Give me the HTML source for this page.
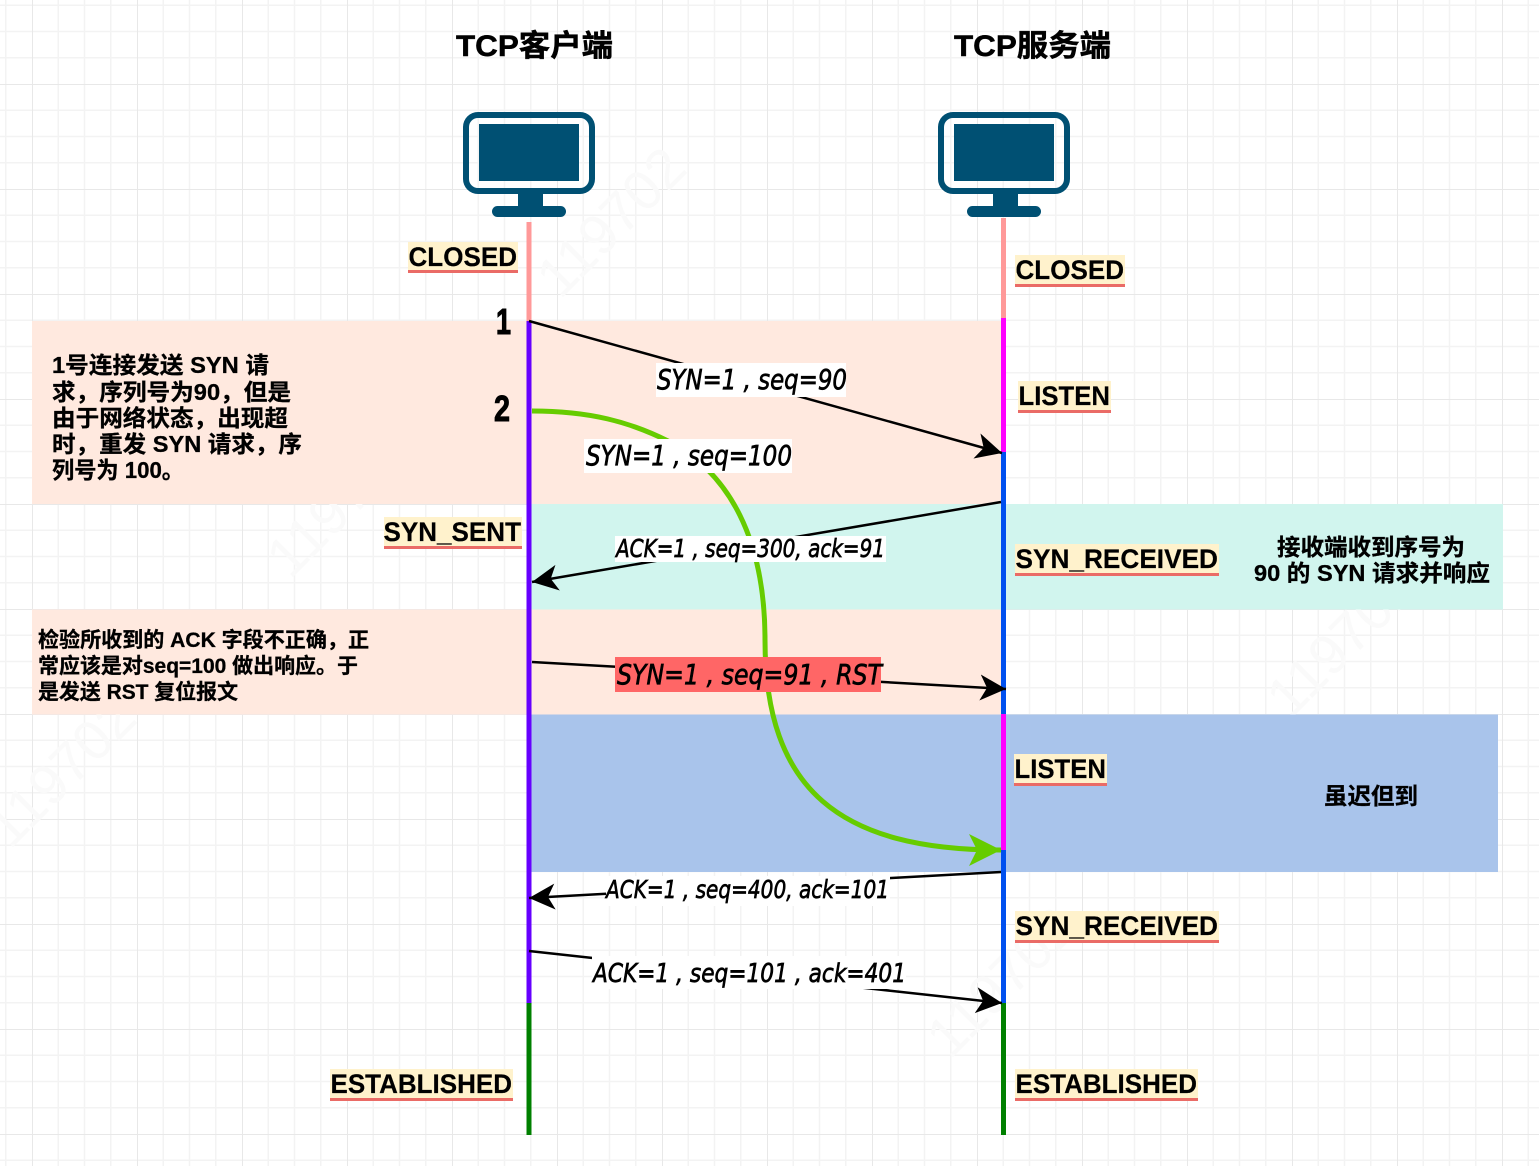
<!DOCTYPE html>
<html><head><meta charset="utf-8"><style>
html,body{margin:0;padding:0;background:#fff;width:1539px;height:1166px;overflow:hidden}
svg{display:block}
text{font-family:"Liberation Sans","Noto Sans CJK SC",sans-serif;font-weight:bold;fill:#000}
.t{font-size:30px;stroke:#000;stroke-width:.5px}
.n{font-size:23px;stroke:#000;stroke-width:.3px}
.s{font-size:27px;stroke:#000;stroke-width:.2px}
.m{font-size:28px;font-style:italic;font-weight:normal;stroke:#000;stroke-width:.7px;font-family:"DejaVu Sans","Liberation Sans",sans-serif}
.w{font-size:56px;fill:#fafafa;font-weight:normal}
</style></head><body>
<svg width="1539" height="1166" viewBox="0 0 1539 1166" xmlns="http://www.w3.org/2000/svg">
<defs>
<pattern id="g" width="105" height="105" patternUnits="userSpaceOnUse" x="32" y="-21">
<path d="M26.25 0V105M52.5 0V105M78.75 0V105M0 26.25H105M0 52.5H105M0 78.75H105" stroke="#f3f3f3" stroke-width="1.5" fill="none"/>
<path d="M0 0V105M0 0H105" stroke="#e8e8e8" stroke-width="2" fill="none"/>
</pattern>
<marker id="a" markerUnits="userSpaceOnUse" markerWidth="32" markerHeight="32" refX="26" refY="13" orient="auto"><path d="M0 0L26 13L0 26L7 13Z" fill="#000"/></marker>
<marker id="b" markerUnits="userSpaceOnUse" markerWidth="36" markerHeight="36" refX="32" refY="16" orient="auto"><path d="M0 0L32 16L0 32L8 16Z" fill="#66cc00"/></marker>
<g id="pc" fill="#005073">
<path fill-rule="evenodd" d="M478 112H580A15 15 0 0 1 595 127V179A15 15 0 0 1 580 194H478A15 15 0 0 1 463 179V127A15 15 0 0 1 478 112ZM478 118A9 9 0 0 0 469 127V179A9 9 0 0 0 478 188H580A9 9 0 0 0 589 179V127A9 9 0 0 0 580 118Z"/>
<rect x="479" y="124" width="100" height="57"/>
<rect x="518" y="194" width="25" height="13"/>
<rect x="492" y="206" width="74" height="11" rx="5.5"/>
</g>
</defs>
<rect width="1539" height="1166" fill="#fff"/>
<rect width="1539" height="1166" fill="url(#g)"/>
<g class="wm">
<text class="w" transform="translate(560 300) rotate(-45)">119702</text>
<text class="w" transform="translate(290 580) rotate(-45)">119702</text>
<text class="w" transform="translate(10 850) rotate(-45)">119702</text>
<text class="w" transform="translate(1290 720) rotate(-45)">119702</text>
<text class="w" transform="translate(950 1060) rotate(-45)">119702</text>
</g>

<rect x="32" y="321" width="971" height="183" fill="#ffe9df"/>
<rect x="530" y="504" width="973" height="105.500" fill="#d1f5ee"/>
<rect x="32" y="609.500" width="971" height="105" fill="#ffe9df"/>
<rect x="530" y="714.500" width="968" height="157.500" fill="#a9c4eb"/>

<use href="#pc"/>
<use href="#pc" x="475"/>

<g fill="none" stroke-width="5">
<path d="M529 222V321" stroke="#ff9999"/>
<path d="M529 321V1003" stroke="#6600ff"/>
<path d="M529 1003V1135" stroke="#008000"/>
<path d="M1003.500 218V318" stroke="#ff9999"/>
<path d="M1003.500 318V452" stroke="#ff00ff"/>
<path d="M1003.500 452V714" stroke="#0050ef"/>
<path d="M1003.500 714V850" stroke="#ff00ff"/>
<path d="M1003.500 850V1003" stroke="#0050ef"/>
<path d="M1003.500 1003V1135" stroke="#008000"/>
</g>

<g fill="none">
<path d="M532 411C590 411 630 422 668 441C730 473 765 540 765 640C765 790 840 850 1001 850" stroke="#66cc00" stroke-width="5" marker-end="url(#b)"/>
<g stroke="#000" stroke-width="2.500">
<path d="M529 321L1002 453" marker-end="url(#a)"/>
<path d="M1001 502L532 582" marker-end="url(#a)"/>
<path d="M532 662L1006 689" marker-end="url(#a)"/>
<path d="M1001 872L529 898" marker-end="url(#a)"/>
<path d="M529 951L1002 1003" marker-end="url(#a)"/>
</g>
</g>

<text class="t" x="456" y="56" textLength="157" lengthAdjust="spacingAndGlyphs">TCP客户端</text>
<text class="t" x="954" y="56" textLength="157" lengthAdjust="spacingAndGlyphs">TCP服务端</text>

<g fill="#fff2cc">
<rect x="408" y="242" width="110" height="28"/>
<rect x="1015" y="255" width="110" height="30"/>
<rect x="1018" y="381" width="93" height="30"/>
<rect x="384" y="517" width="138" height="30"/>
<rect x="1015" y="544" width="204" height="30"/>
<rect x="1014" y="754" width="93" height="30"/>
<rect x="1015" y="911" width="204" height="30"/>
<rect x="330" y="1069" width="183" height="30"/>
<rect x="1015" y="1069" width="183" height="30"/>
</g>
<g fill="#ea6b66">
<rect x="408" y="270" width="110" height="3"/>
<rect x="1015" y="284" width="110" height="3"/>
<rect x="1018" y="410" width="93" height="3"/>
<rect x="384" y="546" width="138" height="3"/>
<rect x="1015" y="573" width="204" height="3"/>
<rect x="1014" y="783" width="93" height="3"/>
<rect x="1015" y="940" width="204" height="3"/>
<rect x="330" y="1098" width="183" height="3"/>
<rect x="1015" y="1098" width="183" height="3"/>
</g>
<text class="s" x="408.500" y="266" textLength="108.500" lengthAdjust="spacingAndGlyphs">CLOSED</text>
<text class="s" x="1015.500" y="279" textLength="108.500" lengthAdjust="spacingAndGlyphs">CLOSED</text>
<text class="s" x="1018.500" y="405" textLength="91.500" lengthAdjust="spacingAndGlyphs">LISTEN</text>
<text class="s" x="383.500" y="541" textLength="137.500" lengthAdjust="spacingAndGlyphs">SYN_SENT</text>
<text class="s" x="1015.500" y="568" textLength="202.500" lengthAdjust="spacingAndGlyphs">SYN_RECEIVED</text>
<text class="s" x="1014.500" y="778" textLength="91.500" lengthAdjust="spacingAndGlyphs">LISTEN</text>
<text class="s" x="1015.500" y="935" textLength="202.500" lengthAdjust="spacingAndGlyphs">SYN_RECEIVED</text>
<text class="s" x="330.500" y="1093" textLength="181.500" lengthAdjust="spacingAndGlyphs">ESTABLISHED</text>
<text class="s" x="1015.500" y="1093" textLength="181.500" lengthAdjust="spacingAndGlyphs">ESTABLISHED</text>

<text x="496" y="334" style="font-size:36px;stroke:#000;stroke-width:1px" textLength="15" lengthAdjust="spacingAndGlyphs">1</text>
<text x="494" y="421" style="font-size:36px;stroke:#000;stroke-width:1px" textLength="16" lengthAdjust="spacingAndGlyphs">2</text>

<text class="n" x="52" y="373" textLength="217" lengthAdjust="spacingAndGlyphs">1号连接发送 SYN 请</text>
<text class="n" x="52" y="400" textLength="239" lengthAdjust="spacingAndGlyphs">求，序列号为90，但是</text>
<text class="n" x="52" y="426" textLength="236" lengthAdjust="spacingAndGlyphs">由于网络状态，出现超</text>
<text class="n" x="52" y="452" textLength="250" lengthAdjust="spacingAndGlyphs">时，重发 SYN 请求，序</text>
<text class="n" x="52" y="478" textLength="132" lengthAdjust="spacingAndGlyphs">列号为 100。</text>

<text class="n" style="font-size:21px" x="38" y="647" textLength="331" lengthAdjust="spacingAndGlyphs">检验所收到的 ACK 字段不正确，正</text>
<text class="n" style="font-size:21px" x="38" y="673" textLength="320" lengthAdjust="spacingAndGlyphs">常应该是对seq=100 做出响应。于</text>
<text class="n" style="font-size:21px" x="38" y="699" textLength="200" lengthAdjust="spacingAndGlyphs">是发送 RST 复位报文</text>

<text class="n" x="1277" y="555" textLength="188" lengthAdjust="spacingAndGlyphs">接收端收到序号为</text>
<text class="n" x="1254" y="581" textLength="236" lengthAdjust="spacingAndGlyphs">90 的 SYN 请求并响应</text>
<text class="n" x="1324" y="804" textLength="94" lengthAdjust="spacingAndGlyphs">虽迟但到</text>

<rect x="656" y="363" width="190" height="34" fill="#fff"/>
<rect x="584" y="439" width="208" height="34" fill="#fff"/>
<rect x="615" y="536" width="271" height="26" fill="#fff"/>
<rect x="615" y="657" width="266" height="35" fill="#ff6666"/>
<rect x="606" y="876" width="284" height="30" fill="#fff"/>
<rect x="592" y="956" width="314" height="33" fill="#fff"/>

<text class="m" x="657" y="389" textLength="190" lengthAdjust="spacingAndGlyphs">SYN=1 , seq=90</text>
<text class="m" x="586" y="465" textLength="206" lengthAdjust="spacingAndGlyphs">SYN=1 , seq=100</text>
<text class="m" style="font-size:25px" x="616" y="557" textLength="269" lengthAdjust="spacingAndGlyphs">ACK=1 , seq=300, ack=91</text>
<text class="m" x="617" y="684" textLength="265" lengthAdjust="spacingAndGlyphs">SYN=1 , seq=91 ,  RST</text>
<text class="m" style="font-size:25px" x="606" y="898" textLength="283" lengthAdjust="spacingAndGlyphs">ACK=1 , seq=400, ack=101</text>
<text class="m" style="font-size:26px" x="593" y="982" textLength="313" lengthAdjust="spacingAndGlyphs">ACK=1 , seq=101 , ack=401</text>
</svg>
</body></html>
